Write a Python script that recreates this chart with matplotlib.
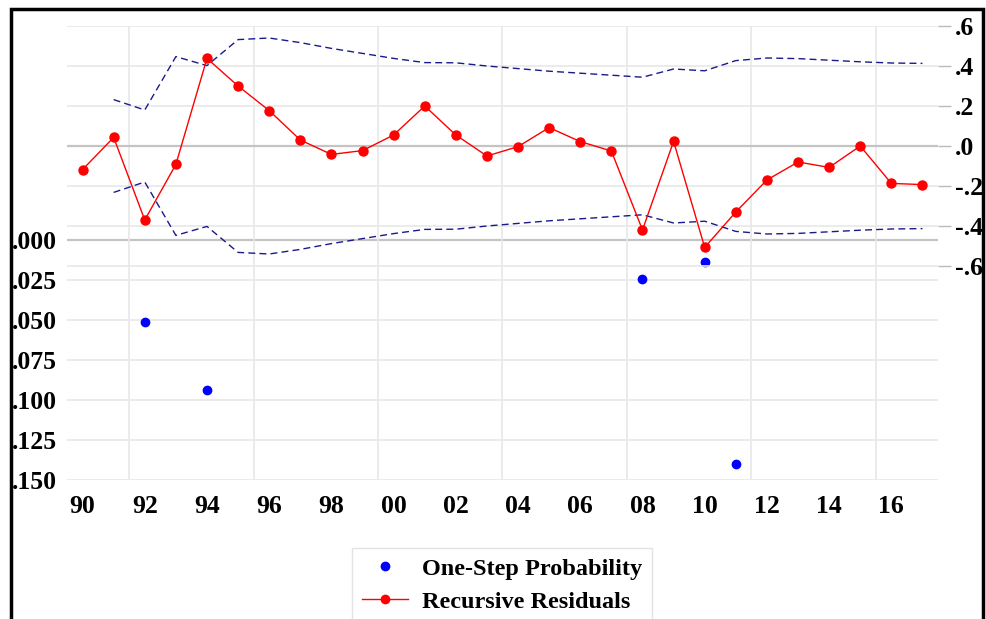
import matplotlib
matplotlib.use("Agg")
import matplotlib.pyplot as plt
import numpy as np
from matplotlib.lines import Line2D
from matplotlib.patches import Rectangle

years = np.arange(1990, 2018)

# recursive residuals (right axis)
resid = [-0.118, 0.043, -0.370, -0.092, 0.438, 0.300, 0.177, 0.030, -0.042, -0.023,
         0.055, 0.200, 0.055, -0.050, -0.003, 0.092, 0.022, -0.025, -0.420, 0.023,
         -0.507, -0.330, -0.170, -0.080, -0.107, 0.000, -0.187, -0.193]

# +/- 2 S.E. band, from 1991
band_years = np.arange(1991, 2018)
band = [0.232, 0.180, 0.447, 0.402, 0.532, 0.540, 0.517, 0.488, 0.463, 0.438,
        0.417, 0.416, 0.400, 0.387, 0.374, 0.364, 0.354, 0.344, 0.385, 0.376,
        0.427, 0.440, 0.437, 0.429, 0.421, 0.415, 0.413]

# one-step probabilities (left axis), only those below .15
prob_years = [1992, 1994, 2008, 2010, 2011]
prob = [0.0512, 0.094, 0.0246, 0.0138, 0.140]

plt.rcParams['font.family'] = ['Liberation Serif', 'DejaVu Serif']
plt.rcParams['font.weight'] = 'bold'

W, H = 987, 619
fig = plt.figure(figsize=(W / 100, H / 100), dpi=100)
x0, x1, y0, y1 = 67, 938, 26, 480
ax = fig.add_axes([x0 / W, 1 - y1 / H, (x1 - x0) / W, (y1 - y0) / H])
ax2 = ax.twinx()

grid_c = '#e8e8e8'
zero_c = '#c4c4c4'
fs = 18.5

# left axis: probability, inverted
ax.set_ylim(0.15, -0.13375)
ax.set_yticks(np.arange(0, 0.151, 0.025))
ax.set_yticklabels(['.000', '.025', '.050', '.075', '.100', '.125', '.150'])
ax.set_xlim(1989.5, 2017.5)
ax.set_xticks(np.arange(1990, 2017, 2))
ax.set_xticklabels(['%02d' % (y % 100) for y in range(1990, 2017, 2)])
for v in np.arange(0.025, 0.151, 0.025):
    ax.axhline(v, color=grid_c, lw=1.2, zorder=0)
ax.axhline(0, color=zero_c, lw=1.6, zorder=0)
for v in np.arange(1991.5, 2017, 4):
    ax.axvline(v, color=grid_c, lw=1.2, zorder=0)
ax.tick_params(axis='y', length=0, pad=7, labelsize=fs)
ax.tick_params(axis='x', length=0, pad=11, labelsize=fs)

# right axis: residuals
ax2.set_ylim(-1.67, 0.6)
ax2.set_yticks(np.arange(-0.6, 0.61, 0.2))
ax2.set_yticklabels(['-.6', '-.4', '-.2', '.0', '.2', '.4', '.6'])
ax2.tick_params(axis='y', length=9, width=1, color='#bbbbbb', pad=3, labelsize=fs)
for v in [-0.6, -0.4, -0.2, 0.2, 0.4, 0.6]:
    ax2.axhline(v, color=grid_c, lw=1.2, zorder=0)
ax2.axhline(0, color=zero_c, lw=1.6, zorder=0)

for a in (ax, ax2):
    for s in a.spines.values():
        s.set_visible(False)

ax.plot(prob_years, prob, 'o', color='blue', ms=6, zorder=3)
ax2.plot(band_years, band, '--', color='#1a1a8c', lw=1, dashes=(5, 3))
ax2.plot(band_years, -np.array(band), '--', color='#1a1a8c', lw=1, dashes=(5, 3))
ax2.plot(years, resid, '-o', color='red', lw=1, ms=6.5, zorder=4)

handles = [Line2D([], [], ls='none', marker='o', color='blue', ms=6),
           Line2D([], [], ls='-', marker='o', color='red', lw=1, ms=6)]
leg = fig.legend(handles, ['One-Step Probability', 'Recursive Residuals'],
                 loc='upper left', bbox_to_anchor=(352 / W, 1 - 548 / H),
                 fontsize=17.5, frameon=True, fancybox=False, handlelength=1.9,
                 handletextpad=0.6, labelspacing=0.45, borderpad=0.4,
                 borderaxespad=0)
leg.get_frame().set_edgecolor('#dddddd')
leg.get_frame().set_linewidth(1)

fig.patches.append(Rectangle((11 / W, -0.1), (983 - 11) / W, 1.1 - 9 / H,
                             transform=fig.transFigure, fill=False,
                             edgecolor='black', lw=2.5))

fig.savefig('out.png', dpi=100)
